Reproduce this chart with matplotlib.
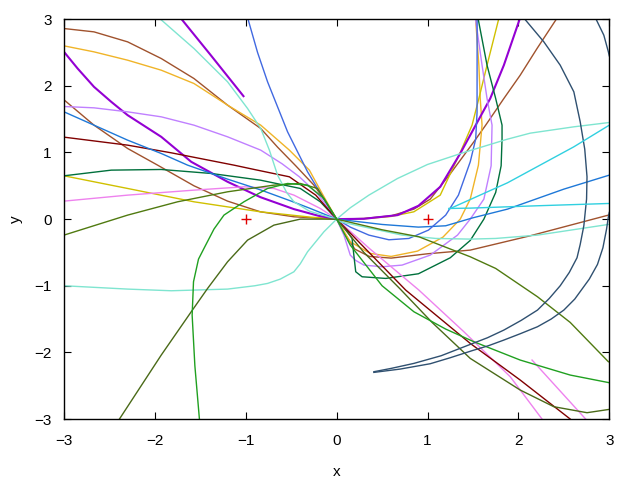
import numpy as np
import matplotlib
matplotlib.use('Agg')
import matplotlib.pyplot as plt

# curves (x, y pairs)
brown_a_x = [-3.0, -2.67, -2.30, -1.93, -1.57, -1.20, -0.835, -0.65, -0.45, -0.25, -0.1, 0.0,
             0.3, 0.6, 0.85, 1.03, 1.25, 1.51, 1.64, 1.84, 2.02, 2.205, 2.41]
brown_a_y = [2.86, 2.81, 2.66, 2.41, 2.11, 1.71, 1.36, 1.08, 0.8, 0.51, 0.22, 0.0,
             0.01, 0.05, 0.15, 0.3, 0.68, 1.16, 1.41, 1.81, 2.16, 2.56, 2.985]

brown_b_x = [-3.0, -2.67, -2.30, -1.97, -1.57, -1.20, -0.84, -0.47, 0.0, 0.08, 0.2, 0.36, 0.6, 1.0, 1.47, 2.13, 2.99]
brown_b_y = [1.79, 1.41, 1.06, 0.81, 0.5, 0.27, 0.11, 0.035, 0.0, -0.2, -0.45, -0.56, -0.585, -0.52, -0.465, -0.25, 0.06]

orange_x = [-3.0, -2.67, -2.30, -1.93, -1.57, -1.20, -0.835, -0.52, -0.30, -0.16, 0.0,
            0.04, 0.15, 0.37, 0.6, 0.89, 1.17, 1.36, 1.47, 1.56, 1.60, 1.58, 1.565, 1.53]
orange_y = [2.6, 2.51, 2.385, 2.235, 2.035, 1.71, 1.41, 1.035, 0.735, 0.385, 0.0,
            -0.09, -0.34, -0.515, -0.56, -0.48, -0.27, 0.0, 0.3, 0.81, 1.41, 1.81, 2.31, 2.985]

gold_x = [-3.0, -2.30, -1.57, -0.84, -0.29, 0.0, 0.3, 0.6, 0.85, 1.14, 1.36, 1.49, 1.565, 1.655, 1.78]
gold_y = [0.65, 0.46, 0.26, 0.11, 0.03, 0.0, 0.005, 0.04, 0.11, 0.36, 1.0, 1.41, 1.81, 2.31, 2.985]

purple_x = [-3.0, -2.85, -2.67, -2.48, -2.30, -1.93, -1.6, -1.2, -0.84, -0.47, -0.2, 0.0,
            0.3, 0.67, 0.9, 1.14, 1.36, 1.53, 1.69, 1.84, 2.01]
purple_y = [2.51, 2.26, 1.985, 1.76, 1.56, 1.235, 0.86, 0.56, 0.33, 0.15, 0.05, 0.0,
            0.005, 0.06, 0.2, 0.485, 0.985, 1.41, 1.81, 2.31, 2.985]

purple_seg_x = [-1.70, -1.385, -1.025]
purple_seg_y = [2.99, 2.46, 1.845]

lavender_x = [-3.0, -2.67, -2.30, -1.93, -1.57, -1.20, -0.835, -0.6, -0.41, -0.21, 0.0,
              0.08, 0.15, 0.21, 0.30, 0.50, 0.72, 1.03, 1.33, 1.47, 1.62, 1.70, 1.71, 1.655, 1.60, 1.53]
lavender_y = [1.69, 1.67, 1.61, 1.535, 1.41, 1.235, 1.035, 0.83, 0.635, 0.38, 0.0,
              -0.24, -0.54, -0.62, -0.69, -0.715, -0.69, -0.54, -0.24, 0.0, 0.3, 0.8, 1.41, 1.81, 2.31, 2.985]

dkgreen_x = [-3.0, -2.48, -1.93, -1.38, -0.84, -0.40, -0.18, 0.0, 0.1, 0.17, 0.19, 0.21, 0.28, 0.54, 0.9,
             1.25, 1.47, 1.62, 1.75, 1.81, 1.82, 1.82, 1.75, 1.655, 1.56]
dkgreen_y = [0.65, 0.735, 0.745, 0.685, 0.585, 0.46, 0.26, 0.0, -0.15, -0.29, -0.55, -0.79, -0.865, -0.89, -0.82,
             -0.58, -0.32, 0.0, 0.4, 0.8, 1.2, 1.41, 1.81, 2.31, 2.985]

pink_x = [-3.0, -2.30, -1.57, -1.02, -0.69, -0.47, -0.18, 0.0, 0.36, 0.905, 1.40, 1.91, 2.26]
pink_y = [0.27, 0.36, 0.435, 0.485, 0.46, 0.36, 0.16, 0.0, -0.44, -1.065, -1.69, -2.365, -3.0]

pink_seg_x = [2.15, 2.74]
pink_seg_y = [-2.115, -3.0]

maroon_x = [-3.0, -2.30, -1.82, -1.13, -0.89, -0.52, -0.23, 0.0, 0.76, 1.47, 2.02, 2.57]
maroon_y = [1.23, 1.11, 0.995, 0.81, 0.74, 0.635, 0.36, 0.0, -1.065, -1.865, -2.415, -3.0]

dodger_x = [-3.0, -2.67, -2.30, -1.93, -1.64, -1.2, -0.84, -0.5, -0.29, 0.0,
            0.5, 0.9, 1.2, 1.5, 1.88, 2.5, 3.0]
dodger_y = [1.61, 1.41, 1.185, 0.985, 0.81, 0.6, 0.44, 0.27, 0.16, 0.0,
            -0.08, -0.12, -0.1, 0.02, 0.15, 0.45, 0.66]

steel_x = [-0.975, -0.87, -0.76, -0.54, -0.32, -0.10, 0.0, 0.15, 0.355, 0.575, 0.795, 1.01, 1.20, 1.34, 1.47, 1.53, 1.545, 1.546]
steel_y = [3.0, 2.5, 2.06, 1.31, 0.71, 0.21, 0.0, -0.12, -0.24, -0.31, -0.29, -0.165, 0.06, 0.36, 0.86, 1.2, 1.6, 3.0]

aqua_a_x = [-1.93, -1.57, -1.20, -0.98, -0.835, -0.74, -0.65, -0.55, -0.47, -0.3, -0.18, 0.0,
            0.04, 0.72, 1.09, 1.47, 1.75, 2.21, 2.99]
aqua_a_y = [2.99, 2.56, 2.06, 1.66, 1.36, 1.035, 0.66, 0.4, 0.26, 0.12, 0.07, 0.0,
            -0.04, -0.24, -0.29, -0.30, -0.29, -0.24, -0.08]

aqua_b_x = [-3.0, -2.30, -1.82, -1.20, -0.9, -0.76, -0.62, -0.47, -0.40, -0.32, -0.14, 0.0,
            0.15, 0.355, 0.67, 1.0, 1.4, 1.88, 2.13, 2.61, 3.0]
aqua_b_y = [-1.0, -1.05, -1.075, -1.05, -1.0, -0.965, -0.9, -0.79, -0.67, -0.49, -0.19, 0.0,
            0.17, 0.36, 0.61, 0.82, 1.0, 1.2, 1.29, 1.385, 1.45]

olive_a_x = [-3.0, -2.30, -1.75, -1.20, -0.69, -0.40, -0.21, 0.0, 0.5, 0.905, 1.47, 1.75, 2.21, 2.57, 2.99]
olive_a_y = [-0.24, 0.06, 0.26, 0.41, 0.51, 0.535, 0.46, 0.0, -0.16, -0.265, -0.565, -0.74, -1.165, -1.55, -2.14]

olive_b_x = [-2.39, -1.93, -1.60, -1.42, -1.20, -0.98, -0.69, -0.40, 0.0, 0.3, 0.7, 1.05, 1.47, 2.02, 2.39, 2.755, 3.0]
olive_b_y = [-3.0, -2.04, -1.39, -1.04, -0.64, -0.315, -0.09, 0.0, 0.0, -0.5, -1.05, -1.55, -2.09, -2.565, -2.815, -2.905, -2.855]

green_x = [-1.51, -1.56, -1.59, -1.575, -1.52, -1.46, -1.35, -1.24, -1.02, -0.76, -0.54, -0.32, -0.14, 0.0,
           0.15, 0.5, 0.85, 1.2, 1.51, 2.02, 2.57, 3.0]
green_y = [-3.0, -2.2, -1.44, -0.94, -0.6, -0.44, -0.15, 0.06, 0.26, 0.46, 0.535, 0.51, 0.31, 0.0,
           -0.39, -1.0, -1.39, -1.65, -1.84, -2.115, -2.34, -2.455]

slate_a_x = [2.08, 2.28, 2.46, 2.61, 2.68, 2.73, 2.755, 2.75, 2.72, 2.68, 2.645, 2.56, 2.46, 2.34, 2.21,
             2.03, 1.84, 1.66, 1.47, 1.15, 0.85, 0.6, 0.41]
slate_a_y = [2.985, 2.66, 2.31, 1.91, 1.46, 1.05, 0.635, 0.3, -0.1, -0.38, -0.58, -0.8, -1.0, -1.19, -1.365,
             -1.52, -1.665, -1.78, -1.88, -2.05, -2.165, -2.24, -2.29]

slate_b_top_x = [2.86, 2.94, 2.99, 3.0]
slate_b_top_y = [2.985, 2.76, 2.51, 2.45]
slate_b_x = [3.0, 2.99, 2.97, 2.93, 2.87, 2.78, 2.62, 2.50, 2.36, 2.21, 2.02, 1.84, 1.67, 1.5, 1.25, 1.03, 0.7, 0.41]
slate_b_y = [0.1, 0.035, -0.15, -0.43, -0.68, -0.9, -1.2, -1.365, -1.5, -1.615, -1.72, -1.815, -1.9, -1.97, -2.08, -2.17, -2.25, -2.30]

cyan_a_x = [1.235, 1.88, 2.61, 3.0]
cyan_a_y = [0.15, 0.545, 1.085, 1.41]
cyan_b_x = [1.235, 1.47, 2.2, 3.0]
cyan_b_y = [0.16, 0.165, 0.2, 0.235]

points_x = [-1, 1]
points_y = [0, 0]

curves = [
    (brown_a_x, brown_a_y, '#a0522d', 1.0),
    (brown_b_x, brown_b_y, '#a0522d', 1.0),
    (orange_x, orange_y, '#f0b428', 1.0),
    (gold_x, gold_y, '#d0c000', 1.0),
    (purple_x, purple_y, '#9400d3', 1.5),
    (purple_seg_x, purple_seg_y, '#9400d3', 1.5),
    (lavender_x, lavender_y, '#c080ff', 1.0),
    (dkgreen_x, dkgreen_y, '#00703c', 1.0),
    (pink_x, pink_y, '#ee82ee', 1.0),
    (pink_seg_x, pink_seg_y, '#ee82ee', 1.0),
    (maroon_x, maroon_y, '#800000', 1.0),
    (dodger_x, dodger_y, '#1e78d8', 1.0),
    (steel_x, steel_y, '#4169e1', 1.0),
    (aqua_a_x, aqua_a_y, '#7fe5d0', 1.0),
    (aqua_b_x, aqua_b_y, '#7fe5d0', 1.0),
    (olive_a_x, olive_a_y, '#507a10', 1.0),
    (olive_b_x, olive_b_y, '#4a6a18', 1.0),
    (green_x, green_y, '#20a020', 1.0),
    (slate_a_x, slate_a_y, '#2f5070', 1.0),
    (slate_b_top_x, slate_b_top_y, '#2f5070', 1.0),
    (slate_b_x, slate_b_y, '#2f5070', 1.0),
    (cyan_a_x, cyan_a_y, '#30d0e0', 1.0),
    (cyan_b_x, cyan_b_y, '#30d0e0', 1.0),
]

plt.rcParams['font.family'] = ['Liberation Sans', 'DejaVu Sans']
fig = plt.figure(figsize=(6.4, 4.8), dpi=100)
ax = fig.add_axes([0.1, 0.127, 0.852, 0.833])

for cx, cy, c, lw in curves:
    ax.plot(cx, cy, color=c, lw=lw)

ax.plot(points_x, points_y, '+', color='#e00000', ms=7, mew=1)

ax.set_xlim(-3, 3)
ax.set_ylim(-3, 3)
ax.set_xticks([-3, -2, -1, 0, 1, 2, 3])
ax.set_yticks([-3, -2, -1, 0, 1, 2, 3])
ax.tick_params(direction='in', top=True, right=True, length=5, labelsize=11)
ax.tick_params(axis='x', pad=11)
ax.tick_params(axis='y', pad=9)
ax.set_xlabel('x', fontsize=11, labelpad=12)
ax.set_ylabel('y', fontsize=11, labelpad=8)
for s in ax.spines.values():
    s.set_linewidth(1.0)

fig.savefig('out.png', dpi=100)
